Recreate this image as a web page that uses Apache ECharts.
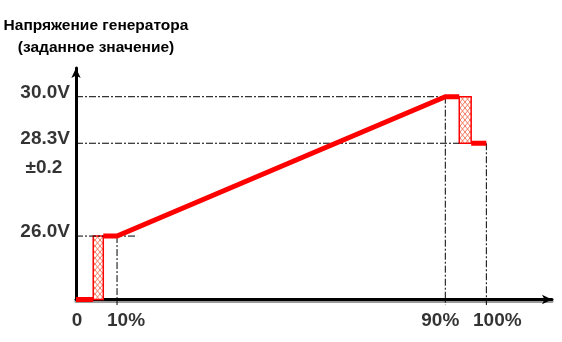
<!DOCTYPE html>
<html><head><meta charset="utf-8">
<script src="https://cdn.jsdelivr.net/npm/echarts@6/dist/echarts.min.js"></script>
<style>html,body{margin:0;padding:0;background:#fff}#c{width:562px;height:342px}</style>
</head><body><div id="c"></div>
<script>
// x: share of time/load in %, y: schematic level height of the diagram (0..100, not to scale)
const xTickValues = [0, 10, 90, 100];
const xTickLabels = ['0', '10%', '90%', '100%'];
const levelValues = [27.4, 67.5, 87.6];
const levelLabels = ['26.0V', '28.3V', '30.0V'];
const toleranceLabel = '±0.2';
// setpoint profile (red)
const profileStart = [[0, 0], [4.2, 0]];
const profileMain = [[6.65, 27.4], [10, 27.4], [90, 87.6], [93.4, 87.6]];
const profileEnd = [[96.3, 67.5], [100, 67.5]];
// hatched transition zones: [x0, x1, y0, y1]
const transitions = [[4.2, 6.65, 0, 27.4], [93.4, 96.3, 67.5, 87.6]];
// dashed guides
const guideH = [[27.4, 14.9], [67.5, 93.4], [87.6, 90]];   // [level, x end]
const guideV = [[10, 27.4], [90, 87.6], [100, 67.5]];      // [x, top level]
const guideBottom = -2.4;

const FONT = 'Liberation Sans, Arial, sans-serif';

// hatch pattern
const pc = document.createElement('canvas');
pc.width = 5; pc.height = 6;
const g = pc.getContext('2d');
g.fillStyle = '#ffffff'; g.fillRect(0, 0, 5, 6);
g.strokeStyle = '#f47a60'; g.lineWidth = 1;
g.beginPath(); g.moveTo(0, 0); g.lineTo(5, 6); g.moveTo(5, 0); g.lineTo(0, 6); g.stroke();

const dash = { color: '#000', width: 1, type: [7, 2, 2, 2] };
const series = [];

guideH.forEach(([lv, xe]) => series.push({
  type: 'line', data: [[0, lv], [xe, lv]], symbol: 'none', silent: true, clip: false,
  lineStyle: dash, z: 1
}));
guideV.forEach(([xv, top]) => series.push({
  type: 'line', data: [[xv, top], [xv, guideBottom]], symbol: 'none', silent: true, clip: false,
  lineStyle: dash, z: 1
}));

series.push({
  type: 'line', symbol: 'none', silent: true, clip: false, z: 5,
  data: [...profileStart, null, ...profileMain, null, ...profileEnd],
  connectNulls: false,
  lineStyle: { color: '#ff0000', width: 5, cap: 'butt', join: 'miter' },
  markArea: {
    silent: true,
    itemStyle: { color: { image: pc, repeat: 'repeat' }, borderColor: '#ff0000', borderWidth: 1.5 },
    data: transitions.map(([x0, x1, y0, y1]) => [{ coord: [x0, y1] }, { coord: [x1, y0] }])
  }
});

// tick labels
const xOffsets = [[1, 21.5], [9, 21.5], [-5, 21.5], [11, 21.5]];
series.push({
  type: 'scatter', symbolSize: 0, silent: true, clip: false, z: 10,
  data: xTickValues.map((v, i) => ({
    value: [v, 0],
    label: { show: true, position: 'inside', offset: xOffsets[i], formatter: xTickLabels[i],
      color: '#000', fontSize: 19, fontWeight: 'bold', fontFamily: FONT }
  }))
});
series.push({
  type: 'scatter', symbolSize: 0, silent: true, clip: false, z: 10,
  data: levelValues.map((v, i) => ({
    value: [0, v],
    label: { show: true, position: 'left', distance: 6, offset: [0, -4], formatter: levelLabels[i],
      color: '#000', fontSize: 19, fontWeight: 'bold', fontFamily: FONT }
  })).concat([{
    value: [0, levelValues[1]],
    label: { show: true, position: 'inside', offset: [-32, 25], formatter: toleranceLabel,
      color: '#000', fontSize: 19, fontWeight: 'bold', fontFamily: FONT }
  }])
});

const chart = echarts.init(document.getElementById('c'), null, { renderer: 'canvas' });
chart.setOption({
  animation: false,
  backgroundColor: '#fff',
  grid: { left: 76, right: 10, top: 68, bottom: 42.5, containLabel: false },
  graphic: [
    { type: 'text', x: 96, y: 26, style: { text: 'Напряжение генератора', x: 0, y: 0,
      textAlign: 'center', textVerticalAlign: 'middle', fill: '#000', font: 'bold 15.5px ' + FONT } },
    { type: 'text', x: 96, y: 48, style: { text: '(заданное значение)', x: 0, y: 0,
      textAlign: 'center', textVerticalAlign: 'middle', fill: '#000', font: 'bold 15.5px ' + FONT } }
  ],
  xAxis: {
    type: 'value', min: 0, max: 116,
    axisLine: { show: true, onZero: false, symbol: ['none', 'arrow'], symbolSize: [7, 10],
      lineStyle: { color: '#000', width: 3, shadowColor: '#999', shadowOffsetY: 2, shadowBlur: 0 } },
    axisTick: { show: false }, axisLabel: { show: false }, splitLine: { show: false }
  },
  yAxis: {
    type: 'value', min: 0, max: 100,
    axisLine: { show: true, onZero: false, symbol: ['none', 'arrow'], symbolSize: [7, 10],
      lineStyle: { color: '#000', width: 3 } },
    axisTick: { show: false }, axisLabel: { show: false }, splitLine: { show: false }
  },
  series
});
</script></body></html>
